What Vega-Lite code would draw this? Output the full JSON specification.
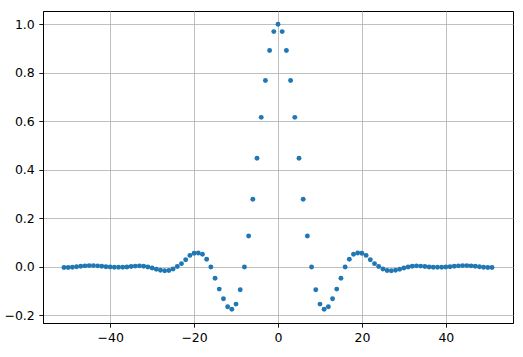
{
  "$schema": "https://vega.github.io/schema/vega-lite/v6.json",
  "width": 470,
  "height": 312,
  "padding": {"left": 43, "top": 11, "right": 10, "bottom": 34},
  "autosize": {"type": "none"},
  "background": "white",
  "config": {
    "view": {"stroke": "black", "strokeWidth": 1},
    "axis": {
      "grid": true, "gridColor": "#b0b0b0", "gridWidth": 0.8,
      "domainColor": "black", "domainWidth": 1,
      "tickColor": "black", "tickSize": 4.2, "tickWidth": 0.9,
      "labelFont": "DejaVu Sans", "labelFontSize": 12.5, "labelColor": "black",
      "labelPadding": 4.5, "title": null
    }
  },
  "data": {"values": [
    {"x": -51, "y": -0.004}, {"x": -50, "y": -0.004}, {"x": -49, "y": -0.003}, {"x": -48, "y": -0.001},
    {"x": -47, "y": 0.001}, {"x": -46, "y": 0.003}, {"x": -45, "y": 0.004}, {"x": -44, "y": 0.004},
    {"x": -43, "y": 0.003}, {"x": -42, "y": 0.001}, {"x": -41, "y": -0.001}, {"x": -40, "y": -0.002},
    {"x": -39, "y": -0.003}, {"x": -38, "y": -0.003}, {"x": -37, "y": -0.003}, {"x": -36, "y": -0.002},
    {"x": -35, "y": 0.000}, {"x": -34, "y": 0.002}, {"x": -33, "y": 0.003}, {"x": -32, "y": 0.001},
    {"x": -31, "y": -0.002}, {"x": -30, "y": -0.006}, {"x": -29, "y": -0.011}, {"x": -28, "y": -0.015},
    {"x": -27, "y": -0.017}, {"x": -26, "y": -0.016}, {"x": -25, "y": -0.010}, {"x": -24, "y": 0.000},
    {"x": -23, "y": 0.012}, {"x": -22, "y": 0.028}, {"x": -21, "y": 0.046}, {"x": -20, "y": 0.055},
    {"x": -19, "y": 0.056}, {"x": -18, "y": 0.051}, {"x": -17, "y": 0.030}, {"x": -16, "y": -0.002},
    {"x": -15, "y": -0.048}, {"x": -14, "y": -0.093}, {"x": -13, "y": -0.133}, {"x": -12, "y": -0.166},
    {"x": -11, "y": -0.176}, {"x": -10, "y": -0.155}, {"x": -9, "y": -0.096}, {"x": -8, "y": -0.002},
    {"x": -7, "y": 0.126}, {"x": -6, "y": 0.278}, {"x": -5, "y": 0.447}, {"x": -4, "y": 0.616},
    {"x": -3, "y": 0.768}, {"x": -2, "y": 0.892}, {"x": -1, "y": 0.970}, {"x": 0, "y": 1.0},
    {"x": 1, "y": 0.970}, {"x": 2, "y": 0.892}, {"x": 3, "y": 0.768}, {"x": 4, "y": 0.616},
    {"x": 5, "y": 0.447}, {"x": 6, "y": 0.278}, {"x": 7, "y": 0.126}, {"x": 8, "y": -0.002},
    {"x": 9, "y": -0.096}, {"x": 10, "y": -0.155}, {"x": 11, "y": -0.176}, {"x": 12, "y": -0.166},
    {"x": 13, "y": -0.133}, {"x": 14, "y": -0.093}, {"x": 15, "y": -0.048}, {"x": 16, "y": -0.002},
    {"x": 17, "y": 0.030}, {"x": 18, "y": 0.051}, {"x": 19, "y": 0.056}, {"x": 20, "y": 0.055},
    {"x": 21, "y": 0.046}, {"x": 22, "y": 0.028}, {"x": 23, "y": 0.012}, {"x": 24, "y": 0.000},
    {"x": 25, "y": -0.010}, {"x": 26, "y": -0.016}, {"x": 27, "y": -0.017}, {"x": 28, "y": -0.015},
    {"x": 29, "y": -0.011}, {"x": 30, "y": -0.006}, {"x": 31, "y": -0.002}, {"x": 32, "y": 0.001},
    {"x": 33, "y": 0.003}, {"x": 34, "y": 0.002}, {"x": 35, "y": 0.000}, {"x": 36, "y": -0.002},
    {"x": 37, "y": -0.003}, {"x": 38, "y": -0.003}, {"x": 39, "y": -0.003}, {"x": 40, "y": -0.002},
    {"x": 41, "y": -0.001}, {"x": 42, "y": 0.001}, {"x": 43, "y": 0.003}, {"x": 44, "y": 0.004},
    {"x": 45, "y": 0.004}, {"x": 46, "y": 0.003}, {"x": 47, "y": 0.001}, {"x": 48, "y": -0.001},
    {"x": 49, "y": -0.003}, {"x": 50, "y": -0.004}, {"x": 51, "y": -0.004}
  ]},
  "mark": {"type": "point", "filled": true, "shape": "circle", "size": 24, "opacity": 1, "color": "#1f77b4"},
  "encoding": {
    "x": {"field": "x", "type": "quantitative",
      "scale": {"domain": [-56, 56], "nice": false, "zero": false},
      "axis": {"values": [-40, -20, 0, 20, 40], "format": "d"}},
    "y": {"field": "y", "type": "quantitative",
      "scale": {"domain": [-0.233, 1.055], "nice": false, "zero": false},
      "axis": {"values": [-0.2, 0, 0.2, 0.4, 0.6, 0.8, 1.0], "format": ".1f"}}
  }
}
